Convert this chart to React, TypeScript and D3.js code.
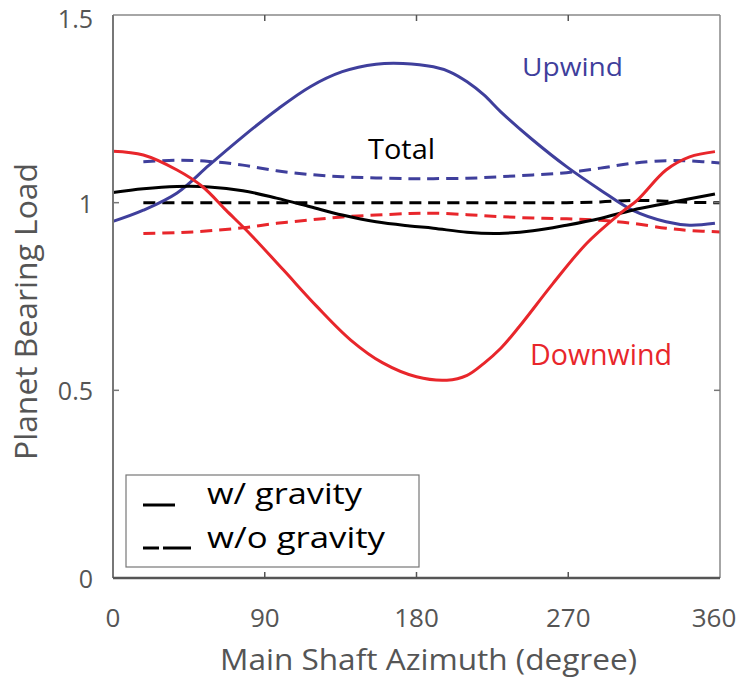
import React from "react";
import * as d3 from "d3";

const upwindDeg = [0, 18, 38, 57, 77, 97, 117, 136, 156, 172, 190, 200, 210, 220, 230, 249, 269, 289, 308, 328, 342, 357];
const upwindGrav = [0.95, 0.98, 1.026, 1.1, 1.176, 1.247, 1.309, 1.349, 1.369, 1.371, 1.362, 1.348, 1.322, 1.287, 1.242, 1.167, 1.096, 1.034, 0.98, 0.949, 0.94, 0.945];

const downDeg = [0, 18, 38, 53, 67, 81, 101, 121, 141, 160, 180, 198, 210, 220, 230, 241, 261, 281, 301, 311, 328, 342, 357];
const downGrav = [1.137, 1.127, 1.087, 1.043, 0.98, 0.918, 0.821, 0.723, 0.634, 0.573, 0.536, 0.527, 0.54, 0.572, 0.612, 0.67, 0.785, 0.892, 0.972, 1.007, 1.087, 1.122, 1.136];

const totalDeg = [0, 18, 38, 57, 77, 97, 117, 136, 156, 176, 190, 210, 229, 249, 269, 289, 308, 328, 357];
const totalGrav = [1.027, 1.037, 1.043, 1.042, 1.032, 1.012, 0.989, 0.967, 0.949, 0.938, 0.932, 0.921, 0.918, 0.925, 0.94, 0.958, 0.98, 0.998, 1.023];

const dashDeg = [18, 38, 57, 77, 97, 117, 136, 156, 176, 190, 210, 229, 249, 269, 289, 308, 328, 342, 360];
const upwindNoGrav = [1.109, 1.113, 1.11, 1.1, 1.085, 1.075, 1.069, 1.066, 1.064, 1.064, 1.065, 1.069, 1.074, 1.08, 1.092, 1.105, 1.112, 1.111, 1.106];
const downNoGrav = [0.918, 0.92, 0.925, 0.933, 0.945, 0.954, 0.962, 0.967, 0.971, 0.972, 0.968, 0.963, 0.959, 0.957, 0.953, 0.945, 0.932, 0.926, 0.922];
const totalNoGrav = [1.0, 1.0, 1.0, 1.0, 1.0, 1.0, 1.0, 1.0, 1.0, 1.0, 1.0, 1.0, 1.0, 1.0, 1.002, 1.006, 1.004, 1.001, 1.0];

const xTicks = [0, 90, 180, 270, 360];
const yTicks = [0, 0.5, 1, 1.5];
const yTickLabels = ["0", "0.5", "1", "1.5"];

const BLUE = "#3f3f9c";
const RED = "#e8262b";
const FONT = "'Open Sans', 'Noto Sans', sans-serif";

export default function App() {
  const W = 742, H = 680;
  const L = 113, R = 720, T = 15, B = 578;
  const x = d3.scaleLinear().domain([0, 360]).range([L, R]);
  const y = d3.scaleLinear().domain([0, 1.5]).range([B, T]);
  const line = (xs: number[], ys: number[]) =>
    d3.line<number>().x((_, i) => x(xs[i])).y((d) => y(d)).curve(d3.curveCatmullRom.alpha(0.5))(ys) || "";

  const series = [
    { xs: dashDeg, ys: upwindNoGrav, c: BLUE, dash: "12 7" },
    { xs: dashDeg, ys: totalNoGrav, c: "#000", dash: "12 7" },
    { xs: dashDeg, ys: downNoGrav, c: RED, dash: "12 7" },
    { xs: upwindDeg, ys: upwindGrav, c: BLUE, dash: undefined },
    { xs: totalDeg, ys: totalGrav, c: "#000", dash: undefined },
    { xs: downDeg, ys: downGrav, c: RED, dash: undefined },
  ];

  return (
    <svg width={W} height={H} style={{ display: "block", position: "absolute", left: 0, top: 0, background: "#fff" }} fontFamily={FONT}>
      <rect x={0} y={0} width={W} height={H} fill="#fff" />
      {series.map((s, i) => (
        <path key={i} d={line(s.xs, s.ys)} fill="none" stroke={s.c} strokeWidth={3} strokeDasharray={s.dash} />
      ))}
      {/* frame */}
      <line x1={L} x2={R} y1={T} y2={T} stroke="#888" strokeWidth={1.5} />
      <line x1={R} x2={R} y1={T} y2={B} stroke="#888" strokeWidth={1.5} />
      <line x1={L} x2={L} y1={T} y2={B} stroke="#777" strokeWidth={2} />
      <line x1={L} x2={R} y1={B} y2={B} stroke="#555" strokeWidth={2.5} />
      {xTicks.slice(1, -1).map((t) => (
        <g key={"xt" + t}>
          <line x1={x(t)} x2={x(t)} y1={B} y2={B - 6} stroke="#555" strokeWidth={1.5} />
          <line x1={x(t)} x2={x(t)} y1={T} y2={T + 6} stroke="#555" strokeWidth={1.5} />
        </g>
      ))}
      {yTicks.slice(1, -1).map((t) => (
        <g key={"yt" + t}>
          <line x1={L} x2={L + 6} y1={y(t)} y2={y(t)} stroke="#777" strokeWidth={1.5} />
          <line x1={R} x2={R - 6} y1={y(t)} y2={y(t)} stroke="#777" strokeWidth={1.5} />
        </g>
      ))}
      {xTicks.map((t) => (
        <text key={"xl" + t} x={t === 360 ? x(t) - 6 : x(t)} y={627} textAnchor="middle" fontSize={26} fill="#555">{t}</text>
      ))}
      {yTicks.map((t, i) => (
        <text key={"yl" + t} x={93} y={t === 1.5 ? 28 : y(t) + 10} textAnchor="end" fontSize={25} fill="#555">{yTickLabels[i]}</text>
      ))}
      <text x={220} y={670} fontSize={29} fill="#555" textLength={417} lengthAdjust="spacingAndGlyphs">Main Shaft Azimuth (degree)</text>
      <text transform={`translate(37,460) rotate(-90)`} fontSize={31} fill="#555" textLength={297} lengthAdjust="spacingAndGlyphs">Planet Bearing Load</text>

      <text x={522} y={76} fontSize={26} fill={BLUE} textLength={101} lengthAdjust="spacingAndGlyphs">Upwind</text>
      <text x={368} y={159} fontSize={27} fill="#000" textLength={67} lengthAdjust="spacingAndGlyphs">Total</text>
      <text x={530} y={365} fontSize={29} fill={RED} textLength={142} lengthAdjust="spacingAndGlyphs">Downwind</text>

      {/* legend */}
      <rect x={126} y={475} width={293} height={92} fill="#fff" stroke="#777" strokeWidth={1.2} />
      <line x1={143} x2={175} y1={505} y2={505} stroke="#000" strokeWidth={3} />
      <line x1={143} x2={159} y1={548} y2={548} stroke="#000" strokeWidth={3} />
      <line x1={163} x2={191} y1={548} y2={548} stroke="#000" strokeWidth={3} />
      <text x={207} y={504} fontSize={30} fill="#000" textLength={155} lengthAdjust="spacingAndGlyphs">w/ gravity</text>
      <text x={207} y={548} fontSize={30} fill="#000" textLength={178} lengthAdjust="spacingAndGlyphs">w/o gravity</text>
    </svg>
  );
}
